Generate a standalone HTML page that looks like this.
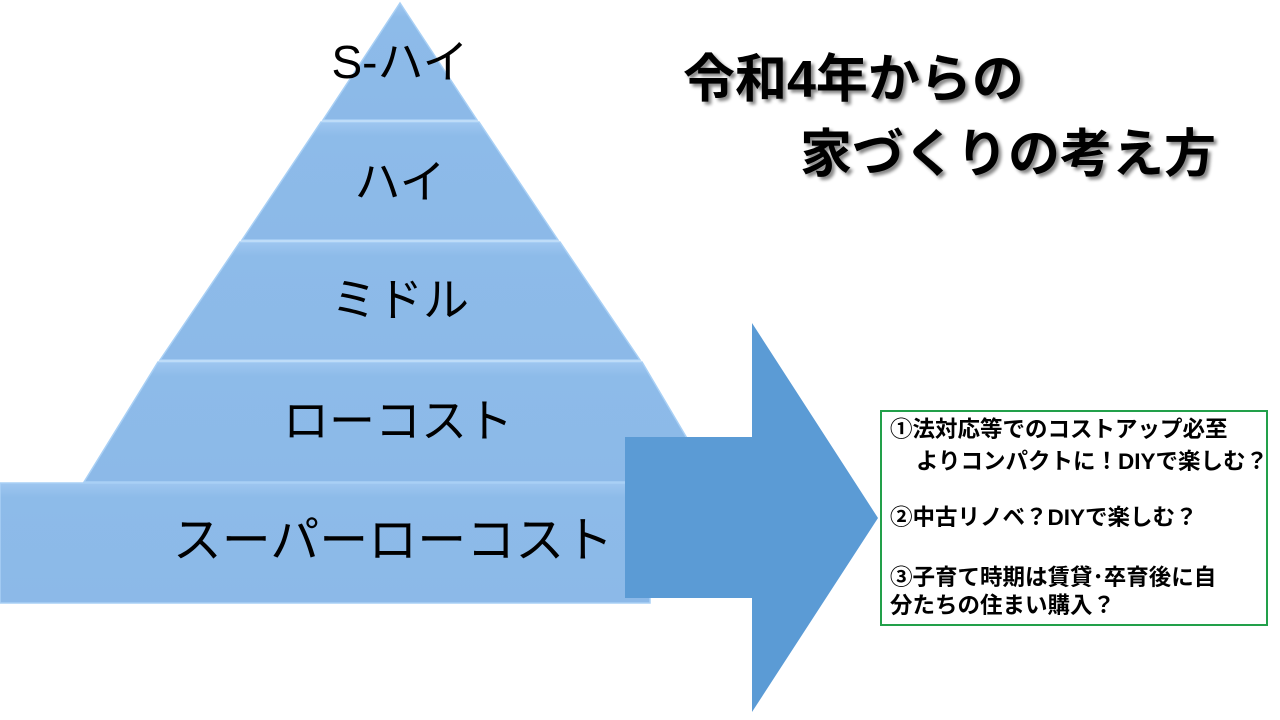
<!DOCTYPE html>
<html><head><meta charset="utf-8"><style>
html,body{margin:0;padding:0;background:#fff;}
body{width:1280px;height:720px;position:relative;overflow:hidden;font-family:"Liberation Sans","Noto Sans CJK JP",sans-serif;}
.t{position:absolute;font-weight:bold;font-size:52px;color:#000;text-shadow:3px 3px 3px #888;white-space:nowrap;line-height:1;}
.box{position:absolute;left:880px;top:410px;width:388px;height:216px;border:2px solid #22a04a;box-sizing:border-box;}
.l{position:absolute;font-weight:bold;font-size:22.5px;line-height:28px;white-space:nowrap;left:890px;}
</style></head><body>
<svg width="1280" height="720" style="position:absolute;left:0;top:0">
<defs><linearGradient id="g" x1="0" y1="0" x2="0" y2="1"><stop offset="0" stop-color="#9ec6f0"/><stop offset="0.12" stop-color="#8dbbe9"/><stop offset="1" stop-color="#8cb9e8"/></linearGradient></defs>
<g stroke="#a9d0f5" stroke-width="1.5" fill="url(#g)">
<polygon points="400,3 477,120 323,120"/>
<polygon points="321,122 479,122 558,240 242,240"/>
<polygon points="240,242 560,242 640,360 160,360"/>
<polygon points="158,362 642,362 688,440 690,482 84,482"/>
<rect x="0" y="483" width="650" height="120"/>
</g>
<g fill="#000" font-family="Liberation Sans, Noto Sans CJK JP, sans-serif" text-anchor="middle" font-size="46">
<text x="400" y="78">S-ハイ</text>
<text x="400" y="198">ハイ</text>
<text x="400" y="316">ミドル</text>
<text x="398" y="437">ローコスト</text>
<text x="393" y="557" font-size="49">スーパーローコスト</text>
</g>
<polygon points="625,437 752,437 752,323 878,518 752,712 752,598 625,598" fill="#5b9bd5"/>
</svg>
<div class="t" style="left:683px;top:54px">令和4年からの</div>
<div class="t" style="left:800px;top:129px">家づくりの考え方</div>
<div class="box"></div>
<div class="l" style="top:416px">①法対応等でのコストアップ必至</div>
<div class="l" style="top:448px;left:916px">よりコンパクトに！DIYで楽しむ？</div>
<div class="l" style="top:504px">②中古リノベ？DIYで楽しむ？</div>
<div class="l" style="top:564px">③子育て時期は賃貸･卒育後に自</div>
<div class="l" style="top:592px">分たちの住まい購入？</div>
</body></html>
